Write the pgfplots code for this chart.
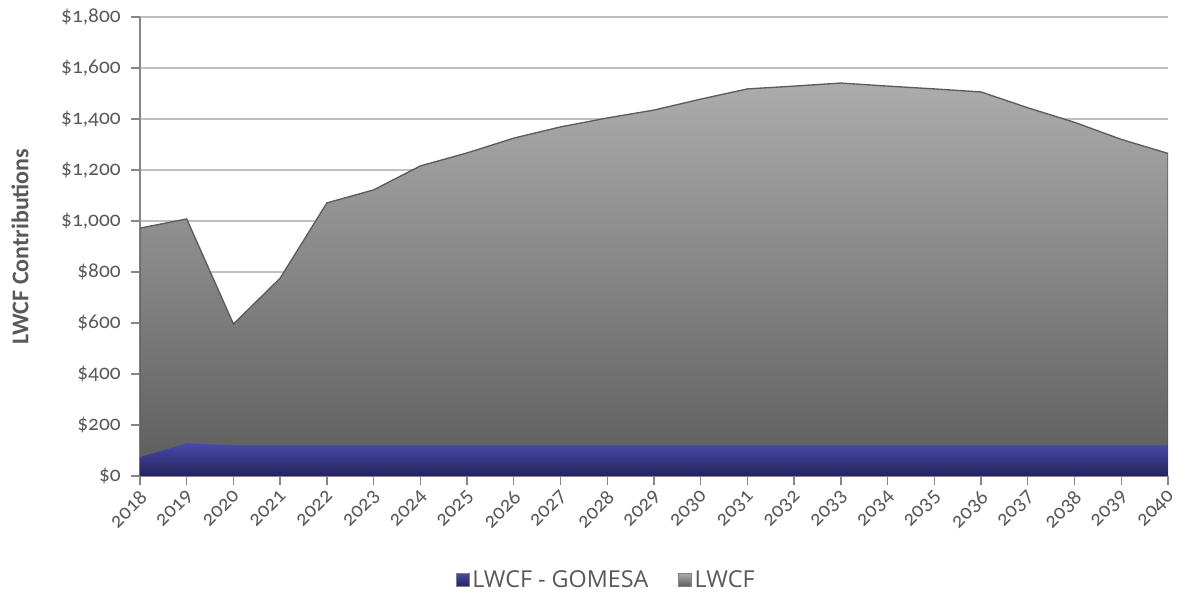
\documentclass[border=0pt]{standalone}
\usepackage{fontspec}
\setmainfont{Carlito}[Numbers=OldStyle]
\newfontfamily\legfont{Open Sans}
\usepackage{pgfplots}
\pgfplotsset{compat=1.18}
\definecolor{txt}{HTML}{595959}
\definecolor{axgray}{HTML}{868686}
\definecolor{gridgray}{HTML}{C0C0C0}
\definecolor{lwcftop}{HTML}{ACACAC}
\definecolor{lwcfbot}{HTML}{5C5C5C}
\definecolor{gomtop}{HTML}{474AAA}
\definecolor{gombot}{HTML}{23235A}
\begin{document}
\begin{tikzpicture}
\begin{axis}[
    at={(0,0)}, anchor=south west,
    scale only axis,
    width=771pt, height=344.25pt,
    xmin=2018, xmax=2040,
    ymin=0, ymax=1800,
    xtick={2018,...,2040},
    ytick={0,200,...,1800},
    axis lines=left,
    axis line style={-, axgray, line width=1pt},
    tick style={axgray, line width=1pt},
    tick align=outside,
    major tick length=7pt,
    ymajorgrids,
    grid style={gridgray, line width=0.8pt},
    /pgf/number format/assume math mode=true,
    xticklabel={\pgfmathprintnumber[1000 sep={}]{\tick}},
    yticklabel={\$\pgfmathprintnumber[1000 sep={,}]{\tick}},
    ticklabel style={font=\fontsize{16}{18}\selectfont, text=txt},
    yticklabel style={xshift=-4pt},
    xticklabel style={rotate=45, anchor=north east, inner sep=1pt, xshift=-1.5pt},
    ylabel={\bfseries\fontsize{18}{20}\selectfont LWCF Contributions},
    ylabel style={text=txt, at={(axis description cs:0,0.5)}, anchor=center, yshift=90pt},
    legend style={at={(0.454,-0.2266)}, anchor=center, draw=none,
        font=\legfont\fontsize{17.5}{19}\selectfont, text=txt,
        /tikz/every even column/.append style={column sep=20pt}},
    legend columns=2,
    reverse legend,
    legend image code/.code={\draw[#1, draw=gray] (0cm,-0.17cm) rectangle (0.34cm,0.17cm);},
]
\addplot[draw=lwcfbot, line width=1pt, top color=lwcftop, bottom color=lwcfbot] coordinates {
    (2018,972) (2019,1008) (2020,596) (2021,776) (2022,1071) (2023,1122)
    (2024,1216) (2025,1267) (2026,1325) (2027,1369) (2028,1404) (2029,1435)
    (2030,1478) (2031,1518) (2032,1529) (2033,1541) (2034,1529) (2035,1518)
    (2036,1506) (2037,1444) (2038,1387) (2039,1320) (2040,1265)
} \closedcycle;
\addlegendentry{LWCF}
\addplot[draw=none, top color=gomtop, bottom color=gombot] coordinates {
    (2018,74) (2019,128) (2020,120) (2021,120) (2022,120) (2023,120)
    (2024,120) (2025,120) (2026,120) (2027,120) (2028,120) (2029,120)
    (2030,120) (2031,120) (2032,120) (2033,120) (2034,120) (2035,120)
    (2036,120) (2037,120) (2038,120) (2039,120) (2040,120)
} \closedcycle;
\addlegendentry{LWCF - GOMESA}
\end{axis}
\pgfresetboundingbox
\path[use as bounding box] (-105pt,-96.75pt) rectangle (778.5pt,357pt);
\end{tikzpicture}
\end{document}
